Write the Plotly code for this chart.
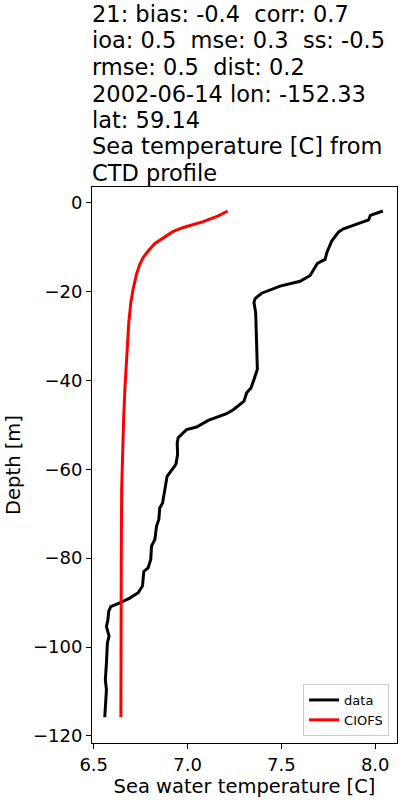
"""CTD temperature profile vs CIOFS model, plotly version."""

import plotly.graph_objects as go

# observed profile (data)
data_depth = [-1.9, -2.9, -3.9, -5.1, -5.9, -6.6, -8.6, -11.3, -12.8, -13.7, -15.0, -16.4,
              -17.7, -18.8, -20.4, -21.6, -22.5, -24.8, -33.0, -37.5, -39.8, -41.7, -42.8,
              -44.7, -46.6, -47.5, -49.0, -50.5, -51.1, -52.9, -54.1, -56.7, -58.9, -60.1,
              -61.6, -64.6, -67.6, -68.7, -71.3, -72.8, -75.8, -77.3, -80.3, -82.2, -83.0,
              -86.3, -87.8, -89.0, -90.1, -90.9, -92.0, -93.8, -95.4, -97.6, -99.1, -103.6,
              -107.4, -109.6, -113.4, -115.8]
data_temp = [8.041, 7.974, 7.965, 7.885, 7.831, 7.805, 7.769, 7.742, 7.733, 7.692, 7.671, 7.653,
             7.600, 7.493, 7.395, 7.360, 7.354, 7.363, 7.369, 7.372, 7.354, 7.338, 7.315,
             7.301, 7.244, 7.208, 7.110, 7.048, 6.995, 6.950, 6.945, 6.947, 6.938, 6.915,
             6.891, 6.879, 6.867, 6.852, 6.847, 6.835, 6.826, 6.808, 6.804, 6.790, 6.767,
             6.760, 6.737, 6.692, 6.639, 6.591, 6.580, 6.576, 6.568, 6.582, 6.573, 6.568,
             6.562, 6.568, 6.564, 6.559]

# model profile (CIOFS)
model_depth = [-1.9, -3.0, -4.3, -5.6, -6.5, -7.9, -9.2, -10.9, -12.4, -13.9, -16.1, -19.5,
               -22.5, -27.0, -34.5, -42.1, -49.5, -57.1, -64.6, -80.0, -100.0, -115.8]
model_temp = [7.214, 7.164, 7.084, 6.977, 6.924, 6.870, 6.826, 6.790, 6.763, 6.746, 6.728, 6.710,
              6.698, 6.687, 6.675, 6.666, 6.659, 6.653, 6.649, 6.647, 6.646, 6.645]

title_lines = [
    "21: bias: -0.4  corr: 0.7",
    "ioa: 0.5  mse: 0.3  ss: -0.5",
    "rmse: 0.5  dist: 0.2",
    "2002-06-14 lon: -152.33",
    "lat: 59.14",
    "Sea temperature [C] from",
    "CTD profile",
]

FONT = "DejaVu Sans"
W, H = 400, 800
M = dict(l=92, r=3, t=187, b=57)
plot_h = H - M["t"] - M["b"]

fig = go.Figure()
fig.add_trace(go.Scatter(x=data_temp, y=data_depth, mode="lines", name="data",
                         line=dict(color="black", width=3)))
fig.add_trace(go.Scatter(x=model_temp, y=model_depth, mode="lines", name="CIOFS",
                         line=dict(color="red", width=3)))

# title as left-aligned lines above the axes
for i, txt in enumerate(title_lines):
    py = 14.0 + 26.5 * i
    fig.add_annotation(text=txt, xref="paper", yref="paper", x=0, xanchor="left",
                       y=(H - M["b"] - py) / plot_h, yanchor="middle", showarrow=False,
                       font=dict(size=22.5, color="black", family=FONT), xshift=-2)

axis_common = dict(showline=True, mirror=True, linecolor="black", linewidth=1,
                   ticks="outside", ticklen=5, tickcolor="black", showgrid=False,
                   zeroline=False, tickfont=dict(size=18, color="black", family=FONT))

fig.update_layout(
    width=W, height=H, margin=M,
    paper_bgcolor="white", plot_bgcolor="white",
    font=dict(family=FONT, color="black"),
    xaxis=dict(range=[6.491, 8.116], dtick=0.5, tickformat=".1f",
               title=dict(text="Sea water temperature [C]", font=dict(size=19.5), standoff=4),
               **axis_common),
    yaxis=dict(range=[-121.6, 3.5], dtick=20,
               title=dict(text="Depth [m]", font=dict(size=19.5), standoff=7),
               **axis_common),
    legend=dict(x=0.974, y=0.0126, xanchor="right", yanchor="bottom",
                bordercolor="#cccccc", borderwidth=1, bgcolor="white",
                font=dict(size=13, family=FONT), itemwidth=30),
    showlegend=True,
)

fig.write_html("out.html", config={"displayModeBar": False},
               post_script="document.body.style.margin='0';")
